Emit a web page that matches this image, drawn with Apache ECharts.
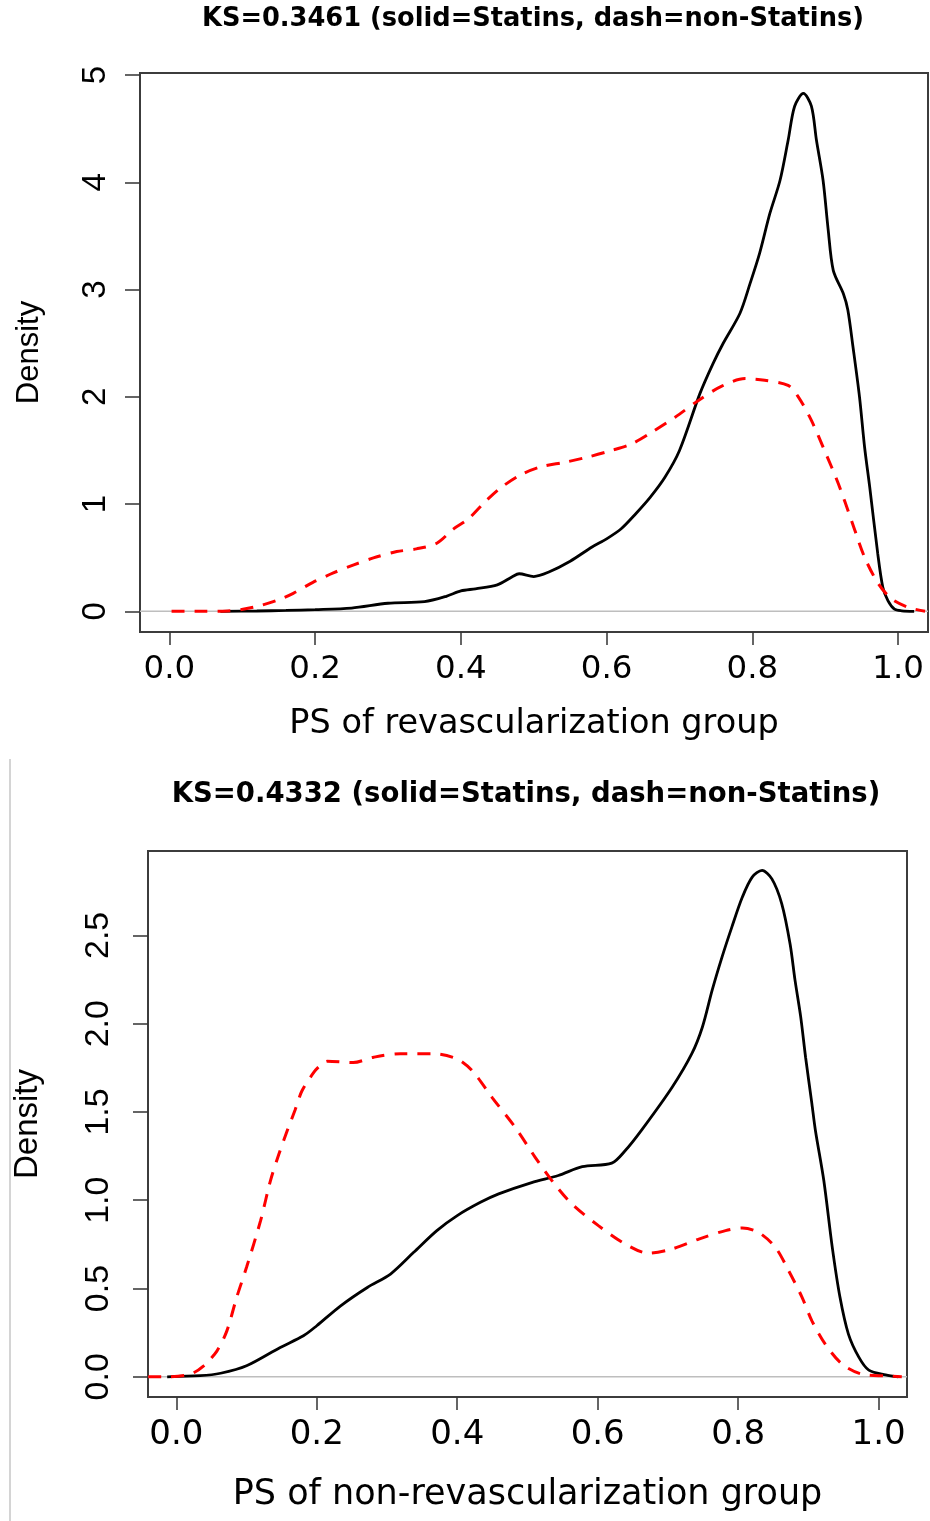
<!DOCTYPE html>
<html>
<head>
<meta charset="utf-8">
<title>PS density</title>
<script src="https://cdn.jsdelivr.net/npm/echarts@6/dist/echarts.min.js"></script>
<style>
  html, body { margin: 0; padding: 0; background: #fff; }
  #chart { width: 930px; height: 1521px; }
</style>
</head>
<body>
<div id="chart"></div>
<script>
// ---- 数据：密度曲线 ----
// 上图：revascularization group
var topStatinsX = [0.07, 0.12, 0.16, 0.2, 0.25, 0.3, 0.35, 0.38, 0.4, 0.42, 0.45, 0.47, 0.48, 0.5, 0.52, 0.55, 0.58, 0.6, 0.62, 0.64, 0.66, 0.68, 0.7, 0.728, 0.746, 0.76, 0.783, 0.797, 0.81, 0.824, 0.838, 0.849, 0.858, 0.87, 0.881, 0.888, 0.897, 0.904, 0.911, 0.925, 0.931, 0.938, 0.947, 0.954, 0.961, 0.972, 0.979, 0.986, 0.995, 1.005, 1.022];
var topStatinsY = [0, 0.003, 0.008, 0.015, 0.03, 0.075, 0.09, 0.14, 0.19, 0.21, 0.246, 0.32, 0.35, 0.324, 0.364, 0.467, 0.6, 0.676, 0.77, 0.91, 1.065, 1.25, 1.5, 2.03, 2.31, 2.5, 2.78, 3.06, 3.34, 3.71, 4.02, 4.39, 4.71, 4.83, 4.71, 4.39, 4.02, 3.56, 3.18, 2.96, 2.81, 2.47, 2.0, 1.53, 1.16, 0.54, 0.224, 0.1, 0.02, 0.005, 0];
var topNonX = [0.003, 0.04, 0.08, 0.115, 0.147, 0.17, 0.197, 0.225, 0.253, 0.28, 0.312, 0.339, 0.367, 0.39, 0.41, 0.433, 0.456, 0.483, 0.511, 0.543, 0.575, 0.607, 0.634, 0.662, 0.694, 0.726, 0.758, 0.79, 0.817, 0.849, 0.863, 0.881, 0.899, 0.918, 0.936, 0.954, 0.973, 0.991, 1.014, 1.037];
var topNonY = [0, 0, 0.003, 0.037, 0.1, 0.168, 0.27, 0.358, 0.433, 0.498, 0.557, 0.582, 0.635, 0.769, 0.86, 1.02, 1.158, 1.276, 1.35, 1.39, 1.44, 1.5, 1.56, 1.67, 1.81, 1.967, 2.1, 2.17, 2.154, 2.107, 2.0, 1.78, 1.5, 1.19, 0.847, 0.504, 0.256, 0.116, 0.037, 0];

// 下图：non-revascularization group
var botStatinsX = [-0.013, 0.034, 0.063, 0.1, 0.148, 0.181, 0.2, 0.234, 0.272, 0.305, 0.338, 0.371, 0.4, 0.433, 0.459, 0.506, 0.544, 0.578, 0.62, 0.639, 0.663, 0.706, 0.734, 0.749, 0.763, 0.777, 0.791, 0.806, 0.82, 0.834, 0.848, 0.862, 0.874, 0.881, 0.889, 0.896, 0.905, 0.91, 0.922, 0.934, 0.945, 0.957, 0.972, 0.986, 1.01, 1.028];
var botStatinsY = [0, 0.006, 0.02, 0.062, 0.166, 0.232, 0.289, 0.402, 0.506, 0.582, 0.705, 0.828, 0.913, 0.988, 1.036, 1.1, 1.14, 1.19, 1.21, 1.28, 1.4, 1.64, 1.83, 1.98, 2.19, 2.377, 2.547, 2.717, 2.83, 2.868, 2.82, 2.68, 2.45, 2.245, 2.04, 1.81, 1.546, 1.395, 1.11, 0.733, 0.45, 0.242, 0.11, 0.038, 0.011, 0];
var botNonX = [-0.04, -0.013, 0.02, 0.039, 0.058, 0.072, 0.086, 0.1, 0.12, 0.134, 0.146, 0.158, 0.169, 0.179, 0.196, 0.205, 0.215, 0.252, 0.281, 0.319, 0.366, 0.4, 0.421, 0.45, 0.483, 0.511, 0.535, 0.563, 0.601, 0.639, 0.672, 0.706, 0.744, 0.782, 0.806, 0.829, 0.853, 0.872, 0.891, 0.905, 0.924, 0.948, 0.976, 1.01, 1.033];
var botNonY = [0, 0, 0.015, 0.062, 0.147, 0.26, 0.45, 0.62, 0.884, 1.11, 1.26, 1.395, 1.51, 1.62, 1.725, 1.763, 1.787, 1.78, 1.81, 1.83, 1.83, 1.8, 1.735, 1.58, 1.41, 1.243, 1.11, 0.98, 0.856, 0.752, 0.7, 0.724, 0.78, 0.828, 0.843, 0.818, 0.733, 0.6, 0.45, 0.317, 0.185, 0.072, 0.015, 0.005, 0];

// ---- 刻度 ----
var xTicks      = [0, 0.2, 0.4, 0.6, 0.8, 1.0];
var topYTicks   = [0, 1, 2, 3, 4, 5];
var botYTicks   = [0, 0.5, 1.0, 1.5, 2.0, 2.5];

// 轴范围（R 默认 4% 扩展）
var topXRange = [-0.0403, 1.041];
var topYRange = [-0.193, 5.02];
var botXRange = [-0.0403, 1.0404];
var botYRange = [-0.1145, 2.978];

var topTitle = "KS=0.3461 (solid=Statins, dash=non-Statins)";
var botTitle = "KS=0.4332 (solid=Statins, dash=non-Statins)";

function zip(xs, ys) {
  return xs.map(function(x, i) { return [x, ys[i]]; });
}

var H_FONT = "DejaVu Sans";
var V_FONT = "Liberation Sans";

function xAxisOpt(grid, range, name, labelSize, nameSize, nameGap) {
  return {
    gridIndex: grid,
    type: "value",
    min: range[0],
    max: range[1],
    axisLine: { show: false, onZero: false },
    splitLine: { show: false },
    axisTick: { show: true, customValues: xTicks, length: 13, lineStyle: { color: "#333", width: 1.5 } },
    axisLabel: {
      customValues: xTicks,
      formatter: function(v) { return v.toFixed(1); },
      fontFamily: H_FONT, fontSize: labelSize, color: "#000", margin: 21
    },
    name: name,
    nameLocation: "middle",
    nameGap: nameGap,
    nameTextStyle: { fontFamily: H_FONT, fontSize: nameSize, color: "#000" }
  };
}

function yAxisOpt(grid, range, ticks, fmt, labelSize, labelMargin, nameGap, nameSize) {
  return {
    gridIndex: grid,
    type: "value",
    min: range[0],
    max: range[1],
    axisLine: { show: false, onZero: false },
    splitLine: { show: false },
    axisTick: { show: true, customValues: ticks, length: 15, lineStyle: { color: "#333", width: 1.5 } },
    axisLabel: {
      customValues: ticks,
      rotate: 90,
      formatter: fmt,
      fontFamily: V_FONT, fontSize: labelSize, color: "#000", margin: labelMargin
    },
    name: "Density",
    nameLocation: "middle",
    nameRotate: 90,
    nameGap: nameGap,
    nameTextStyle: { fontFamily: V_FONT, fontSize: nameSize, color: "#000" }
  };
}

function curve(name, xi, data, dashed) {
  return {
    name: name,
    type: "line",
    xAxisIndex: xi,
    yAxisIndex: xi,
    data: data,
    smooth: 0.3,
    showSymbol: false,
    symbol: "none",
    z: dashed ? 3 : 2,
    lineStyle: dashed
      ? { color: "#ff0000", width: 3, type: [13, 10] }
      : { color: "#000000", width: 2.8 },
    silent: true
  };
}

function zeroLine(xi, range) {
  return {
    type: "line",
    xAxisIndex: xi,
    yAxisIndex: xi,
    data: [[range[0], 0], [range[1], 0]],
    showSymbol: false,
    symbol: "none",
    z: 1,
    lineStyle: { color: "#bebebe", width: 1.5 },
    silent: true
  };
}

var chart = echarts.init(document.getElementById("chart"), null, { renderer: "canvas" });

chart.setOption({
  animation: false,
  backgroundColor: "#fff",
  title: [
    { text: topTitle, left: 533, top: 6, textAlign: "center", padding: 0,
      textStyle: { fontFamily: H_FONT, fontWeight: "bold", fontSize: 25.7, color: "#000" } },
    { text: botTitle, left: 526, top: 781, textAlign: "center", padding: 0,
      textStyle: { fontFamily: H_FONT, fontWeight: "bold", fontSize: 27.5, color: "#000" } }
  ],
  grid: [
    { left: 140, top: 73, width: 788, height: 559, show: true, borderColor: "#3c3c3c", borderWidth: 2, backgroundColor: "transparent" },
    { left: 148, top: 851, width: 759, height: 546, show: true, borderColor: "#3c3c3c", borderWidth: 2, backgroundColor: "transparent" }
  ],
  xAxis: [
    xAxisOpt(0, topXRange, "PS of revascularization group", 32.5, 33.5, 75),
    xAxisOpt(1, botXRange, "PS of non-revascularization group", 34, 35, 80)
  ],
  yAxis: [
    yAxisOpt(0, topYRange, topYTicks, function(v) { return String(v); }, 33, 28, 95, 31),
    yAxisOpt(1, botYRange, botYTicks, function(v) { return v.toFixed(1); }, 34, 32, 104, 33)
  ],
  series: [
    zeroLine(0, topXRange),
    curve("Statins", 0, zip(topStatinsX, topStatinsY), false),
    curve("non-Statins", 0, zip(topNonX, topNonY), true),
    zeroLine(1, botXRange),
    curve("Statins", 1, zip(botStatinsX, botStatinsY), false),
    curve("non-Statins", 1, zip(botNonX, botNonY), true)
  ],
  graphic: [
    { type: "line", shape: { x1: 10, y1: 759, x2: 10, y2: 1521 }, style: { stroke: "#d4d4d4", lineWidth: 2 }, silent: true }
  ]
});
</script>
</body>
</html>
